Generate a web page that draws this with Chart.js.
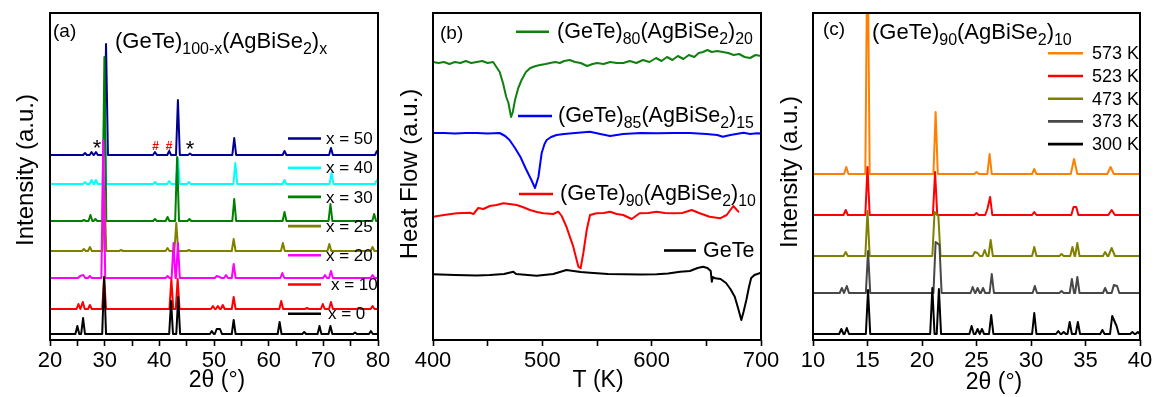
<!DOCTYPE html>
<html>
<head>
<meta charset="utf-8">
<script src="https://cdn.jsdelivr.net/npm/chart.js@4.4.1/dist/chart.umd.min.js"></script>
<style>
  html, body { margin: 0; padding: 0; background: #fff; }
  #wrap { position: relative; width: 1156px; height: 397px; overflow: hidden; }
  #wrap canvas { position: absolute; left: 0; top: 0; }
</style>
</head>
<body>
<div id="wrap">
  <canvas id="panelA" width="1156" height="397"></canvas>
  <canvas id="panelB" width="1156" height="397"></canvas>
  <canvas id="panelC" width="1156" height="397"></canvas>
</div>
<script>
const FONT = '"Liberation Sans", Arial, Helvetica, sans-serif';

// ---------- (a) XRD of (GeTe)100-x(AgBiSe2)x, 2θ 20–80° ----------
const twoThetaA = [20, 80];
const labelsA  = ['x = 50', 'x = 40', 'x = 30', 'x = 25', 'x = 20', 'x = 10', 'x = 0'];
const colorsA  = ['#000090', '#00ffff', '#008000', '#808000', '#ff00ff', '#ff0000', '#000000'];
const offsetsA = [185, 156, 119, 89, 62, 31, 6];
// reflections: [2θ (°), intensity above baseline (a.u.)]
const peaksA_x50 = [[26.4,2],[27.6,3],[28.4,3],[30.25,111],[39.2,3],[41.8,4],[43.4,55],[45.6,1.5],[53.7,17],[62.9,4],[71.4,7],[79.8,4]];
const peaksA_x40 = [[26.4,2],[27.6,4],[28.4,4],[29.95,80],[39.2,2],[41.8,3],[43.4,26],[45.4,2],[53.9,21],[62.9,4],[71.5,11],[79.8,4]];
const peaksA_x30 = [[26.2,1],[27.4,6],[28.3,2],[29.95,164],[39.2,2],[41.5,4],[43.25,64],[45.5,2],[53.7,22],[62.9,9],[71.3,17],[79.3,7]];
const peaksA_x25 = [[26.2,2],[27.3,4],[29.95,60],[33.0,1],[41.5,3],[43.1,28],[45.4,1],[53.6,12],[62.6,8],[71.1,7],[79.0,4]];
const peaksA_x20 = [[25.5,2],[26.1,3],[27.3,2],[29.75,138],[41.5,2],[42.6,35],[43.4,35],[50.5,2],[51.0,1],[52.2,3],[53.6,14],[62.5,5],[70.3,3],[71.4,7],[79.0,3]];
const peaksA_x10 = [[25.2,5],[26.0,7],[27.3,4],[29.9,32],[42.2,30],[43.35,30],[49.8,3],[50.7,3],[51.6,4],[53.6,12],[62.3,8],[67.0,1],[69.9,5],[71.4,7],[76.5,1],[79.0,3]];
const peaksA_x0  = [[25.0,8],[26.05,16],[29.9,57],[42.15,33],[43.45,37],[49.6,3],[50.5,5],[51.1,5],[53.6,14],[62.0,12],[66.5,2],[69.3,8],[71.3,8],[75.8,1.5],[78.7,3]];
const peaksA = [peaksA_x50, peaksA_x40, peaksA_x30, peaksA_x25, peaksA_x20, peaksA_x10, peaksA_x0];
// secondary-phase marks above the x = 50 pattern: [2θ, height]
const starMarksA = [[28.6, 198], [45.6, 197]];
const hashMarksA = [[39.3, 194], [41.8, 194]];

// ---------- (b) DSC heating curves: [T (K), heat flow (a.u.)] ----------
const labelsB = ['(GeTe)80(AgBiSe2)20', '(GeTe)85(AgBiSe2)15', '(GeTe)90(AgBiSe2)10', 'GeTe'];
const colorsB = ['#118011', '#0000ff', '#ff0000', '#000000'];
const dscX20 = [[400,278],[405,277],[410,278],[415,276],[420,278],[425,277],[430,279],[435,277],[440,278],[445,279],[450,277],[455,278],[458,273],[461,268],[464,257],[467,243],[469,237],[471.4,223],[473,228],[475,240],[478,252],[481,260],[485,268],[489,272],[494,274],[498,275],[503,276],[507,277],[512,278],[516,277],[520,279],[525,280],[530,278],[535,277],[541,274],[546,276],[550,277],[556,276],[562,278],[568,277],[574,277],[580,279],[586,277],[592,280],[598,278],[604,282],[609,279],[614,283],[619,280],[624,284],[629,281],[634,285],[639,283],[643,287],[647,288],[651,290],[655,288],[660,289],[665,288],[670,287],[675,285],[680,286],[685,283],[690,282],[695,285],[700,284]];
const dscX15 = [[400,207],[410,207],[420,206.5],[430,207],[440,207],[450,206.5],[461,207],[466,204],[470,200],[475,192],[480,183],[485,171],[490,160],[493.3,152],[496.4,163],[499.4,187],[502,196],[504,200],[508,203],[513,205],[520,206],[530,207],[543.6,208.3],[553,206],[562,204],[568,205],[574,206],[590,207],[605,206.7],[620,207],[635,207],[650,206],[660,205],[665,203.3],[672,205],[684,207.3],[690,206],[696.5,206.7],[700,206.5]];
const dscX10 = [[400,123.3],[410,125],[421.6,126.7],[433.8,127.3],[437,126],[441.4,132],[446,131],[452,134],[458,135],[464.3,136.7],[470,136],[476.5,135],[482,133],[488.7,130],[495,128],[501,126.7],[510,126],[514.6,128.3],[517.7,124],[522,113.3],[528.3,93.3],[533,73.3],[535,71.7],[537.5,87],[540.6,110],[543.6,125],[549.7,126.7],[556,127],[562,128.3],[568,126],[574,125],[581.7,121],[589,126.7],[597,127],[604.6,128.3],[612,127],[619.8,126.7],[628,127],[636.6,130],[644,126.7],[653,123.3],[662.5,121.7],[668.6,125],[674.7,134],[679.3,128.3]];
const dscGeTe = [[400,65.7],[420,65],[440,64.5],[452,65],[465,66],[473.5,68.3],[476,66],[494.8,64.3],[510,66],[522,70],[535,68],[543.6,67.3],[560,66],[574,65.7],[590,65.5],[604.6,65.7],[615,66.5],[626,68.3],[635,69],[642,72],[647,73.3],[651,72],[654,69],[655,58.3],[656,63],[658,61.7],[663,61],[668,57],[672,51],[676,43.3],[679,32],[682,20],[684,28],[686.6,40],[689,53],[691,62],[694,65],[700,67.3]];
const dscCurves = [dscX20, dscX15, dscX10, dscGeTe];

// ---------- (c) XRD of (GeTe)90(AgBiSe2)10 at temperature, 2θ 10–40° ----------
const twoThetaC = [10, 40];
const labelsC  = ['573 K', '523 K', '473 K', '373 K', '300 K'];
const colorsC  = ['#ff8000', '#ff0000', '#808000', '#474747', '#000000'];
const offsetsC = [166, 125, 84, 47, 6];
// reflections: [2θ (°), intensity above baseline (a.u.), optional half-width (°)]
const peaksC_573 = [[13.05,7],[15.0,250],[21.25,62],[25.0,2],[26.2,20],[30.3,5],[33.95,15,0.3],[37.3,7,0.3]];
const peaksC_523 = [[13.0,5],[15.0,48],[21.2,43],[25.0,2],[26.0,6],[26.25,18],[30.3,3],[33.9,8],[34.15,8],[37.4,5,0.3]];
const peaksC_473 = [[13.0,4],[15.0,45],[21.15,44],[21.5,40],[24.85,4],[25.1,3],[25.75,6],[26.3,16],[30.3,9],[32.8,2],[33.8,9],[34.25,13],[36.8,4],[37.4,8,0.3]];
const peaksC_373 = [[12.65,5],[13.1,7],[15.05,42],[21.25,51],[21.6,48],[24.65,6],[25.1,5],[25.6,5],[26.4,19],[30.35,7],[32.8,2],[33.75,14],[34.25,16],[36.8,5],[37.6,8],[37.9,7]];
const peaksC_300 = [[12.6,5],[13.1,6],[15.05,44],[20.95,46],[21.55,45],[24.55,8],[25.1,5],[25.5,5],[26.35,19],[30.3,21],[32.5,3],[33.0,2],[33.55,12],[34.3,12],[36.55,4],[37.45,18],[37.85,8],[39.3,2],[39.8,2]];
const peaksC = [peaksC_573, peaksC_523, peaksC_473, peaksC_373, peaksC_300];

// ---------- helpers ----------
// Turns a reflection list into a polyline on top of a flat baseline.
function pattern(peaks, range, offset, hw) {
  const half = p => (p[2] !== undefined ? p[2] : hw);
  const pts = [{ x: range[0], y: offset }];
  peaks.forEach((p, i) => {
    const prev = peaks[i - 1], next = peaks[i + 1];
    if (!prev || prev[0] + half(prev) <= p[0] - half(p)) pts.push({ x: p[0] - half(p), y: offset });
    pts.push({ x: p[0], y: offset + p[1] });
    if (!next || p[0] + half(p) <= next[0] - half(next)) pts.push({ x: p[0] + half(p), y: offset });
  });
  pts.push({ x: range[1], y: offset });
  return pts;
}

// Text with subscripts: parts = [[text, isSub], ...]
function richText(ctx, x, y, parts, size, subSize, color) {
  ctx.save();
  ctx.fillStyle = color;
  ctx.textAlign = 'left';
  ctx.textBaseline = 'alphabetic';
  let cx = x;
  parts.forEach(([t, sub]) => {
    ctx.font = (sub ? subSize : size) + 'px ' + FONT;
    ctx.fillText(t, cx, sub ? y + size * 0.28 : y);
    cx += ctx.measureText(t).width;
  });
  ctx.restore();
}
function formulaParts(s) {
  // "(GeTe)80(AgBiSe2)20" -> subscripts after ")" and after "Se"
  const m = s.match(/^\(GeTe\)([^()]+)\(AgBiSe2\)(.+)$/);
  if (!m) return [[s, false]];
  return [['(GeTe)', false], [m[1], true], ['(AgBiSe', false], ['2', true], [')', false], [m[2], true]];
}

// Decorations per panel (frame, titles, keys, marks)
const decor = {};
const decorPlugin = {
  id: 'panelDecor',
  afterDraw(chart) {
    const d = decor[chart.canvas.id];
    if (!d) return;
    const ctx = chart.ctx, a = chart.chartArea;
    const xs = chart.scales.x, ys = chart.scales.y;
    ctx.save();
    // frame
    ctx.strokeStyle = '#000';
    ctx.lineWidth = 2;
    ctx.strokeRect(a.left, a.top, a.right - a.left, a.bottom - a.top);
    // axis titles
    ctx.fillStyle = '#000';
    ctx.textAlign = 'center';
    ctx.textBaseline = 'middle';
    ctx.font = '23px ' + FONT;
    ctx.fillText(d.xTitle, d.xTitlePos[0], d.xTitlePos[1]);
    ctx.save();
    ctx.translate(d.yTitlePos[0], d.yTitlePos[1]);
    ctx.rotate(-Math.PI / 2);
    ctx.font = '24px ' + FONT;
    ctx.fillText(d.yTitle, 0, 0);
    ctx.restore();
    // panel tag
    ctx.textAlign = 'left';
    ctx.textBaseline = 'alphabetic';
    ctx.font = '19px ' + FONT;
    ctx.fillText(d.tag, d.tagPos[0], d.tagPos[1]);
    // heading
    if (d.heading) richText(ctx, d.heading.x, d.heading.y, d.heading.parts, 22, 16, '#000');
    // key
    d.key.forEach(k => {
      ctx.strokeStyle = k.color;
      ctx.lineWidth = 2.6;
      ctx.beginPath();
      ctx.moveTo(k.x0, k.y);
      ctx.lineTo(k.x1, k.y);
      ctx.stroke();
      if (k.parts.length > 1) {
        richText(ctx, k.tx, k.y + k.size * 0.27, k.parts, k.size, k.size * 0.74, '#000');
      } else {
        ctx.fillStyle = '#000';
        ctx.textAlign = 'left';
        ctx.textBaseline = 'middle';
        ctx.font = k.size + 'px ' + FONT;
        ctx.fillText(k.parts[0][0], k.tx, k.y + 1);
      }
    });
    // phase marks
    (d.marks || []).forEach(m => {
      ctx.fillStyle = m.color;
      ctx.textAlign = 'center';
      ctx.textBaseline = 'alphabetic';
      ctx.font = (m.bold ? 'bold ' : '') + m.size + 'px ' + FONT;
      m.at.forEach(([tt, h]) => {
        ctx.fillText(m.ch, xs.getPixelForValue(tt), ys.getPixelForValue(h) + m.size * m.lift);
      });
    });
    ctx.restore();
  }
};

function makeChart(id, xRange, step, labelEvery, areaLeft, areaRight, datasets) {
  return new Chart(document.getElementById(id), {
    type: 'line',
    data: { datasets },
    options: {
      responsive: false,
      animation: false,
      devicePixelRatio: 1,
      events: [],
      layout: { padding: { left: areaLeft, right: 1156 - areaRight, top: 13, bottom: 0 } },
      plugins: { legend: { display: false }, tooltip: { enabled: false } },
      elements: { point: { radius: 0 }, line: { tension: 0, borderJoinStyle: 'round', borderCapStyle: 'round' } },
      scales: {
        x: {
          type: 'linear', min: xRange[0], max: xRange[1],
          afterFit: s => { s.height = 57; },
          border: { display: false },
          grid: { display: true, drawOnChartArea: false, drawTicks: true, tickLength: 6, tickColor: '#000', tickWidth: 1.6 },
          ticks: {
            stepSize: step, autoSkip: false, maxRotation: 0, padding: 2, color: '#000',
            font: { family: FONT, size: 22 },
            callback: v => (Math.abs(v % labelEvery) < 1e-9 ? String(v) : '')
          }
        },
        y: { type: 'linear', min: 0, max: 327, display: false }
      }
    },
    plugins: [decorPlugin]
  });
}

// ---------- panel (a) ----------
decor.panelA = {
  xTitle: '2θ (°)', xTitlePos: [217, 381],
  yTitle: 'Intensity (a.u.)', yTitlePos: [26, 170],
  tag: '(a)', tagPos: [53, 37],
  heading: { x: 115, y: 48, parts: [['(GeTe)', false], ['100-x', true], ['(AgBiSe', false], ['2', true], [')', false], ['x', true]] },
  key: labelsA.map((t, i) => ({
    color: colorsA[i], x0: 288, x1: 321, y: 138.5 + i * 29.2,
    tx: t === 'x = 10' ? 331 : (t === 'x = 0' ? 328 : 326), size: 17, parts: [[t, false]]
  })),
  marks: [
    { ch: '*', at: starMarksA, color: '#000', size: 22, bold: false, lift: 0.6 },
    { ch: '#', at: hashMarksA, color: '#ff0000', size: 12, bold: true, lift: 0.36 }
  ]
};
makeChart('panelA', twoThetaA, 5, 10, 50, 378,
  labelsA.map((t, i) => ({
    label: t,
    data: pattern(peaksA[i], twoThetaA, offsetsA[i], 0.35),
    borderColor: colorsA[i], borderWidth: 2, order: labelsA.length - i
  })));

// ---------- panel (b) ----------
decor.panelB = {
  xTitle: 'T (K)', xTitlePos: [598, 381],
  yTitle: 'Heat Flow (a.u.)', yTitlePos: [410, 174],
  tag: '(b)', tagPos: [440, 39],
  key: [
    { color: colorsB[0], x0: 516, x1: 549, y: 31.7, tx: 557, size: 21.5, parts: formulaParts(labelsB[0]) },
    { color: colorsB[1], x0: 518, x1: 552, y: 116, tx: 558, size: 21.5, parts: formulaParts(labelsB[1]) },
    { color: colorsB[2], x0: 519, x1: 553, y: 194, tx: 560, size: 21.5, parts: formulaParts(labelsB[2]) },
    { color: colorsB[3], x0: 664, x1: 696, y: 250.5, tx: 703, size: 21.5, parts: formulaParts(labelsB[3]) }
  ]
};
makeChart('panelB', [400, 700], 50, 100, 433, 761,
  labelsB.map((t, i) => ({
    label: t,
    data: dscCurves[i].map(([x, y]) => ({ x, y })),
    borderColor: colorsB[i], borderWidth: 2
  })));

// ---------- panel (c) ----------
decor.panelC = {
  xTitle: '2θ (°)', xTitlePos: [994, 383],
  yTitle: 'Intensity (a.u.)', yTitlePos: [790, 172],
  tag: '(c)', tagPos: [823, 35],
  heading: { x: 872, y: 39, parts: formulaParts('(GeTe)90(AgBiSe2)10') },
  key: labelsC.map((t, i) => ({
    color: colorsC[i], x0: 1048, x1: 1083, y: 53.3 + i * 22.7, tx: 1092, size: 18, parts: [[t, false]]
  }))
};
makeChart('panelC', twoThetaC, 5, 5, 813, 1140,
  labelsC.map((t, i) => ({
    label: t,
    data: pattern(peaksC[i], twoThetaC, offsetsC[i], 0.2),
    borderColor: colorsC[i], borderWidth: 2, order: labelsC.length - i
  })));
</script>
</body>
</html>
